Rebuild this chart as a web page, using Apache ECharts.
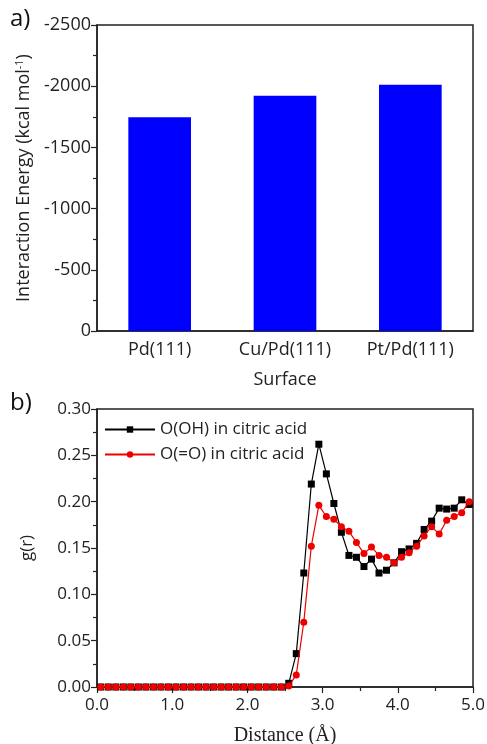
<!DOCTYPE html>
<html><head><meta charset="utf-8">
<script src="https://cdn.jsdelivr.net/npm/echarts@6/dist/echarts.min.js"></script>
<style>html,body{margin:0;padding:0;background:#fff}#c{width:487px;height:744px}</style>
</head><body><div id="c"></div>
<script>
const surfaces = ['Pd(111)', 'Cu/Pd(111)', 'Pt/Pd(111)'];
const energies = [-1746, -1922, -2012];
const distances = [0.05,0.15,0.25,0.35,0.45,0.55,0.65,0.75,0.85,0.95,1.05,1.15,1.25,1.35,1.45,1.55,1.65,1.75,1.85,1.95,2.05,2.15,2.25,2.35,2.45,2.55,2.65,2.75,2.85,2.95,3.05,3.15,3.25,3.35,3.45,3.55,3.65,3.75,3.85,3.95,4.05,4.15,4.25,4.35,4.45,4.55,4.65,4.75,4.85,4.95];
const gOH = [0,0,0,0,0,0,0,0,0,0,0,0,0,0,0,0,0,0,0,0,0,0,0,0,0,0.004,0.036,0.123,0.219,0.262,0.230,0.198,0.167,0.142,0.140,0.130,0.138,0.123,0.126,0.134,0.146,0.149,0.155,0.170,0.179,0.193,0.192,0.193,0.202,0.197];
const gCO = [0,0,0,0,0,0,0,0,0,0,0,0,0,0,0,0,0,0,0,0,0,0,0,0,0,0.001,0.013,0.070,0.152,0.196,0.184,0.181,0.173,0.168,0.156,0.144,0.151,0.142,0.140,0.134,0.140,0.145,0.152,0.163,0.173,0.165,0.180,0.184,0.188,0.200];
const seriesNames = ['O(OH) in citric acid', 'O(=O) in citric acid'];

const FONT = 'Open Sans';
const chart = echarts.init(document.getElementById('c'), null, {renderer: 'canvas'});
const lbl = {color: '#222', fontFamily: FONT, fontSize: 17};
const tick = {show: true, length: 6, lineStyle: {color: '#222', width: 1.2}};
const mtick = {show: true, splitNumber: 2, length: 4, lineStyle: {color: '#222', width: 1.2}};
chart.setOption({
  animation: false,
  backgroundColor: '#fff',
  grid: [
    {left: 97, top: 25, width: 376, height: 306, show: true, borderColor: '#222', borderWidth: 1.5, backgroundColor: 'transparent', outerBoundsMode: 'none'},
    {left: 97, top: 409, width: 376, height: 278, show: true, borderColor: '#222', borderWidth: 1.5, backgroundColor: 'transparent', outerBoundsMode: 'none'}
  ],
  graphic: [
    {type: 'text', left: 10, top: 7, style: {text: 'a)', font: '24px "Open Sans"', fill: '#111'}},
    {type: 'text', left: 10, top: 391, style: {text: 'b)', font: '24px "Open Sans"', fill: '#111'}}
  ],
  legend: {
    orient: 'vertical', left: 99, top: 416, itemWidth: 50, itemHeight: 8, itemGap: 8,
    textStyle: {fontFamily: FONT, fontSize: 17, color: '#222'},
    data: seriesNames
  },
  xAxis: [
    {type: 'category', gridIndex: 0, data: surfaces,
     axisLine: {lineStyle: {color: '#222', width: 1.5}}, axisTick: {show: false},
     axisLabel: Object.assign({}, lbl, {fontSize: 18, margin: 10}),
     name: 'Surface', nameLocation: 'middle', nameGap: 40,
     nameTextStyle: {fontFamily: FONT, fontSize: 18, color: '#222'}},
    {type: 'value', gridIndex: 1, min: 0, max: 5, interval: 1,
     axisLine: {onZero: false, lineStyle: {color: '#222', width: 1.5}},
     axisTick: tick, minorTick: mtick,
     splitLine: {show: false},
     axisLabel: Object.assign({}, lbl, {margin: 10, formatter: v => v.toFixed(1)}),
     name: 'Distance (Å)', nameLocation: 'middle', nameGap: 39,
     nameTextStyle: {fontFamily: 'Liberation Serif', fontSize: 20, color: '#222'}},
  ],
  yAxis: [
    {type: 'value', gridIndex: 0, min: -2500, max: 0, interval: 500, inverse: true,
     axisLine: {show: true, lineStyle: {color: '#222', width: 1.5}},
     axisTick: tick, minorTick: mtick,
     splitLine: {show: false},
     axisLabel: Object.assign({}, lbl, {fontSize: 18, margin: 6, formatter: v => String(v)}),
     name: 'Interaction Energy (kcal mol{sup|-1})', nameLocation: 'middle', nameGap: 60,
     nameTextStyle: {fontFamily: FONT, fontSize: 18, color: '#222',
       rich: {sup: {fontFamily: FONT, fontSize: 11, color: '#222', verticalAlign: 'top', padding: [0,0,8,0]}}}},
    {type: 'value', gridIndex: 1, min: 0, max: 0.3, interval: 0.05,
     axisLine: {show: true, lineStyle: {color: '#222', width: 1.5}},
     axisTick: tick, minorTick: mtick,
     splitLine: {show: false},
     axisLabel: Object.assign({}, lbl, {margin: 6, formatter: v => v.toFixed(2)}),
     name: 'g(r)', nameLocation: 'middle', nameGap: 61,
     nameTextStyle: {fontFamily: FONT, fontSize: 17, color: '#222'}}
  ],
  series: [
    {type: 'bar', xAxisIndex: 0, yAxisIndex: 0, data: energies, barWidth: '50%',
     itemStyle: {color: '#0000ff'}},
    {type: 'line', name: seriesNames[0], xAxisIndex: 1, yAxisIndex: 1,
     data: distances.map((d, i) => [d, gOH[i]]),
     symbol: 'rect', symbolSize: 7, showAllSymbol: true,
     lineStyle: {color: '#000', width: 1.2}, itemStyle: {color: '#000'}, z: 3},
    {type: 'line', name: seriesNames[1], xAxisIndex: 1, yAxisIndex: 1,
     data: distances.map((d, i) => [d, gCO[i]]),
     symbol: 'circle', symbolSize: 7, showAllSymbol: true,
     lineStyle: {color: '#ee0000', width: 1.2}, itemStyle: {color: '#ee0000'}, z: 4}
  ]
});
</script></body></html>
